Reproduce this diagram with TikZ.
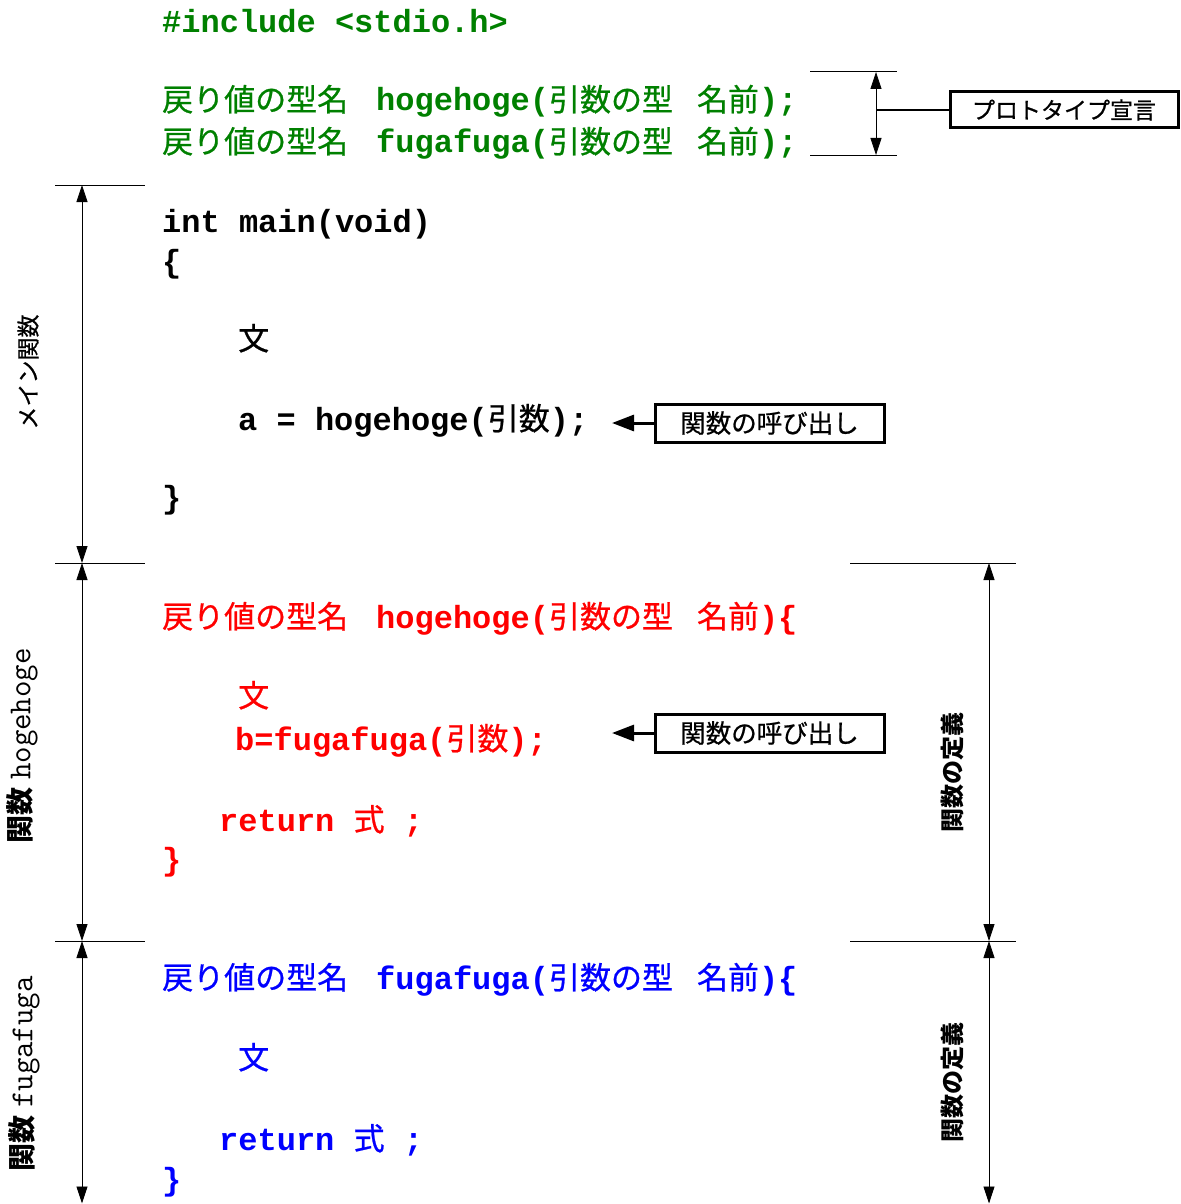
\documentclass[tikz,border=0pt]{standalone}
\usepackage{fontspec}
\newfontfamily\codefont{Liberation Mono}
\newfontfamily\jp{Noto Sans CJK JP}
\newfontfamily\jpm{Noto Sans CJK JP}[FakeBold=0.7]
\usetikzlibrary{arrows.meta}
\definecolor{cgreen}{RGB}{0,128,0}
\definecolor{cred}{RGB}{255,0,0}
\definecolor{cblue}{RGB}{0,0,255}
\newcommand\J[1]{{\fontsize{31}{31}\jpm\mdseries #1}}
\newcommand\hdrline[2]{\J{戻り値の型名}\hspace{28pt}#1(\J{引数の型}\hspace{24pt}\J{名前})#2}
\begin{document}
\begin{tikzpicture}[x=1pt,y=-1pt,
  code/.style={anchor=base west, inner sep=0pt, font=\fontsize{32}{32}\selectfont\codefont\bfseries},
  guide/.style={line width=1pt},
  dimarrow/.style={line width=0.8pt, {Triangle[length=17pt,width=11pt]}-{Triangle[length=17pt,width=11pt]}},
  labelbox/.style={draw, line width=3pt, inner sep=0pt, font=\fontsize{23}{23}\selectfont\jpm},
  callbox/.style={labelbox, minimum width=229pt, minimum height=38pt, font=\fontsize{25.5}{25.5}\selectfont\jpm},
  callarrow/.style={line width=3pt, -{Triangle[length=22pt,width=16pt]}},
  vlabel/.style={rotate=90, inner sep=0pt}]
\useasboundingbox (0,0) rectangle (1180,1204);

% ---- green prototype part
\node[code, text=cgreen] (inc) at (162,33) {\#include <stdio.h>};
\node[code, text=cgreen] (proto1) at (162,111) {\hdrline{hogehoge}{;}};
\node[code, text=cgreen] (proto2) at (162,153) {\hdrline{fugafuga}{;}};

% ---- main
\node[code] (mainhdr) at (162,232) {int main(void)};
\node[code] (ob1) at (162,272) {\{};
\node[code] (s1) at (238,350) {\J{文}};
\node[code] (callA) at (238,430) {a = hogehoge(\J{引数});};
\node[code] (cb1) at (162,508) {\}};

% ---- hogehoge (red)
\node[code, text=cred] (hhdr) at (162,628) {\hdrline{hogehoge}{\{}};
\node[code, text=cred] (s2) at (238,707) {\J{文}};
\node[code, text=cred] (callB) at (235,750) {b=fugafuga(\J{引数});};
\node[code, text=cred] (ret1) at (219,831) {return \J{式} ;};
\node[code, text=cred] (cb2) at (162,870) {\}};

% ---- fugafuga (blue)
\node[code, text=cblue] (fhdr) at (162,989) {\hdrline{fugafuga}{\{}};
\node[code, text=cblue] (s3) at (238,1069) {\J{文}};
\node[code, text=cblue] (ret2) at (219,1150) {return \J{式} ;};
\node[code, text=cblue] (cb3) at (162,1190) {\}};

% ---- prototype bracket
\coordinate (p1a) at (810,72);  \coordinate (p1b) at (897,72);
\coordinate (p2a) at (810,155); \coordinate (p2b) at (897,155);
\draw[guide] (p1a) -- (p1b);
\draw[guide] (p2a) -- (p2b);
\coordinate (pt) at (876,72); \coordinate (pb) at (876,155);
\draw[dimarrow] (pt) -- (pb);
\node[labelbox, minimum width=228pt, minimum height=36pt] (protobox) at (1064,110) {プロトタイプ宣言};
\coordinate (pm) at (876,110);
\draw[line width=2.2pt] (pm) -- (protobox.west);

% ---- call boxes
\node[callbox] (callbox1) at (769.5,423) {関数の呼び出し};
\coordinate (tip1) at (612,423);
\draw[callarrow] (callbox1.west) -- (tip1);
\node[callbox] (callbox2) at (769.5,733) {関数の呼び出し};
\coordinate (tip2) at (612,733);
\draw[callarrow] (callbox2.west) -- (tip2);

% ---- left guides
\coordinate (l1a) at (55,185); \coordinate (l1b) at (145,185);
\coordinate (l2a) at (55,563); \coordinate (l2b) at (145,563);
\coordinate (l3a) at (55,941); \coordinate (l3b) at (145,941);
\draw[guide] (l1a) -- (l1b);
\draw[guide] (l2a) -- (l2b);
\draw[guide] (l3a) -- (l3b);
\coordinate (la1) at (82,185); \coordinate (la2) at (82,563);
\coordinate (la3) at (82,941); \coordinate (la4) at (82,1203.5);
\draw[dimarrow] (la1) -- (la2);
\draw[dimarrow] (la2) -- (la3);
\draw[dimarrow] (la3) -- (la4);
\node[vlabel, font=\fontsize{23}{23}\selectfont\jpm] (lblmain) at (28,372) {メイン関数};
\node[vlabel] (lblhoge) at (22,746) {{\fontsize{28}{28}\selectfont\jp\bfseries 関数}\hspace{8pt}{\fontsize{32}{32}\selectfont\ttfamily hogehoge}};
\node[vlabel] (lblfuga) at (24,1074) {{\fontsize{28}{28}\selectfont\jp\bfseries 関数}\hspace{8pt}{\fontsize{32}{32}\selectfont\ttfamily fugafuga}};

% ---- right guides
\coordinate (r1a) at (850,563); \coordinate (r1b) at (1016,563);
\coordinate (r2a) at (850,941); \coordinate (r2b) at (1016,941);
\draw[guide] (r1a) -- (r1b);
\draw[guide] (r2a) -- (r2b);
\coordinate (ra1) at (989,563); \coordinate (ra2) at (989,941);
\coordinate (ra3) at (989,1203.5);
\draw[dimarrow] (ra1) -- (ra2);
\draw[dimarrow] (ra2) -- (ra3);
\node[vlabel, font=\fontsize{24}{24}\selectfont\jp\bfseries] (lbldef1) at (952,772) {関数の定義};
\node[vlabel, font=\fontsize{24}{24}\selectfont\jp\bfseries] (lbldef2) at (952,1082) {関数の定義};
\end{tikzpicture}
\end{document}
